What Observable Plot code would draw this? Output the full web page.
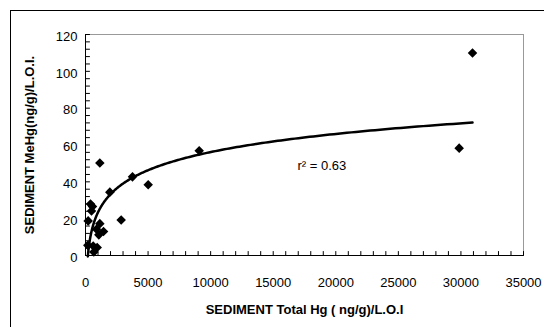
<!DOCTYPE html>
<html>
<head>
<meta charset="utf-8">
<script src="https://cdn.jsdelivr.net/npm/d3@7"></script>
<script src="https://cdn.jsdelivr.net/npm/@observablehq/plot@0.6"></script>
<style>
  html, body { margin: 0; padding: 0; background: #fff; overflow: hidden; }
  #wrap { position: relative; width: 544px; height: 327px; }
  #outer { position: absolute; left: 10px; top: 10px; width: 700px; height: 500px; border: 1px solid #000; box-sizing: border-box; pointer-events: none; }
</style>
</head>
<body>
<div id="wrap"><div id="outer"></div></div>
<script>
// Sediment Total Hg (ng/g)/L.O.I
const totalHg = [185, 213, 400, 480, 560, 615, 665, 880, 935, 1065, 1145, 1145, 1440, 1945, 2850, 3756, 5010, 9085, 29860, 30925];
// Sediment MeHg (ng/g)/L.O.I.
const meHg    = [5.5, 18.8, 27.9, 24.2, 26.6, 5.2, 1.9, 14.2, 4.3, 11.2, 50.2, 17.3, 13, 34.4, 19.3, 42.7, 38.4, 56.9, 58.3, 110];

const xTickLabels = [0, 5000, 10000, 15000, 20000, 25000, 30000, 35000];
const yTickLabels = [0, 20, 40, 60, 80, 100, 120];
const xMinorTicks = d3.range(0, 35001, 1000);
const yMinorTicks = d3.range(0, 121, 4);
const r2Label = "r\u00B2 = 0.63";

const data = totalHg.map((x, i) => ({x, y: meHg[i]}));

// logarithmic trend line (least squares of y on ln x), as Excel does
const lx = totalHg.map(Math.log);
const mx = d3.mean(lx), my = d3.mean(meHg);
const a = d3.sum(lx, (v, i) => (v - mx) * (meHg[i] - my)) / d3.sum(lx, v => (v - mx) ** 2);
const b = my - a * mx;
const [xmin, xmax] = d3.extent(totalHg);
const trend = d3.range(0, 301).map(i => {
  const x = xmin * Math.pow(xmax / xmin, i / 300);
  return {x, y: a * Math.log(x) + b};
});

const font = "'Liberation Sans', Arial, sans-serif";
const tickShape = {draw(context, l) { context.moveTo(0, 0); context.lineTo(0, -l); }};

const chart = Plot.plot({
  width: 544,
  height: 327,
  marginLeft: 85,
  marginRight: 21,
  marginTop: 34,
  marginBottom: 72,
  style: {fontFamily: font, fontSize: "13px", background: "#fff", color: "#000"},
  x: {domain: [0, 35000], axis: null},
  y: {domain: [0, 120], axis: null},
  marks: [
    Plot.frame({stroke: "#999"}),
    Plot.ruleX([0], {stroke: "#000"}),
    Plot.ruleY([0], {stroke: "#000"}),
    // inward minor ticks
    Plot.vector(xMinorTicks, {x: d => d, y: 0, length: 4, rotate: 0, anchor: "start", stroke: "#000", fill: "none", strokeWidth: 1, shape: tickShape}),
    Plot.vector(yMinorTicks, {x: 0, y: d => d, length: 4, rotate: 90, anchor: "start", stroke: "#000", fill: "none", strokeWidth: 1, shape: tickShape}),
    Plot.axisX(xTickLabels, {tickSize: 0, tickPadding: 22, fontSize: 13, fill: "#000", tickFormat: d => String(d), label: null}),
    Plot.axisY(yTickLabels, {tickSize: 0, tickPadding: 8, fontSize: 13, fill: "#000", dy: 2, tickFormat: d => String(d), label: null}),
    Plot.line(trend, {x: "x", y: "y", stroke: "#000", strokeWidth: 2.5}),
    Plot.dot(data, {x: "x", y: "y", symbol: "diamond2", r: 4.3, fill: "#000", stroke: "none"}),
    Plot.text([r2Label], {x: 16940, y: 48.7, text: d => d, textAnchor: "start", fontSize: 13, fill: "#000"}),
    Plot.text(["SEDIMENT Total Hg ( ng/g)/L.O.I"], {frameAnchor: "bottom", dy: 58, text: d => d, fontSize: 13, fontWeight: "bold", fill: "#000"}),
    Plot.text(["SEDIMENT MeHg(ng/g)/L.O.I."], {frameAnchor: "left", textAnchor: "middle", dx: -56, rotate: -90, text: d => d, fontSize: 13, fontWeight: "bold", fill: "#000"})
  ]
});
document.getElementById("wrap").prepend(chart);
chart.style.position = "absolute";
chart.style.left = "0";
chart.style.top = "0";
</script>
</body>
</html>
